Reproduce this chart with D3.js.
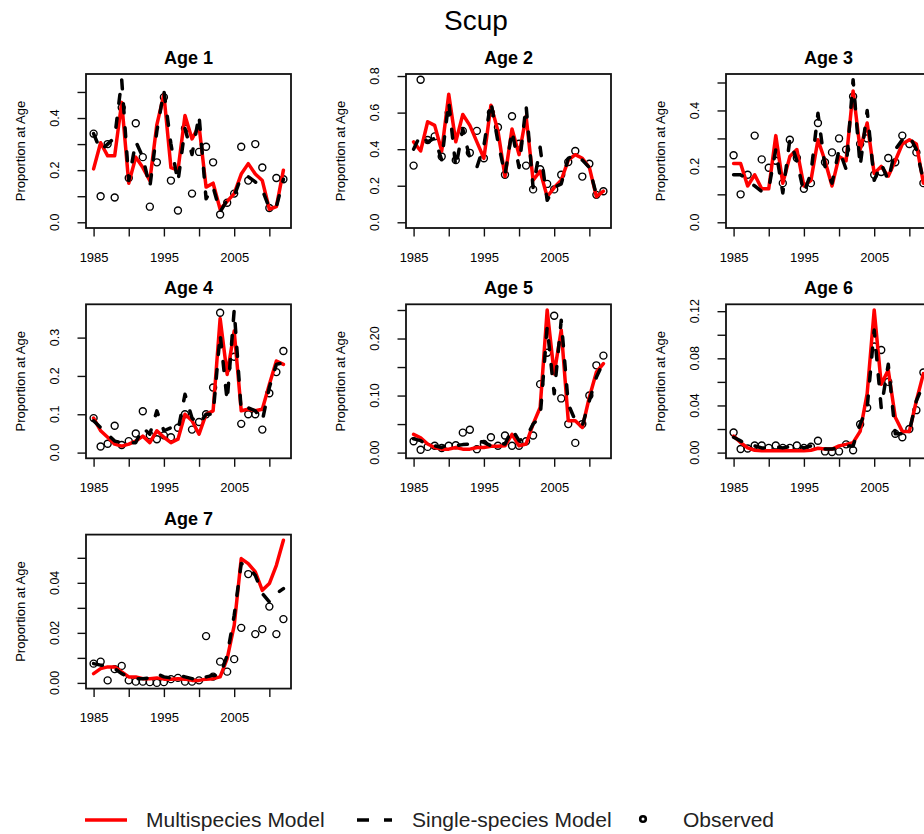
<!DOCTYPE html>
<html lang="en">
<head>
<meta charset="UTF-8">
<title>Scup</title>
<script src="https://d3js.org/d3.v7.min.js"></script>
<style>
  body { margin: 0; background: #fff; }
  svg { display: block; font-family: "Liberation Sans", Arial, sans-serif; }
</style>
</head>
<body>
<svg></svg>
<script>
// ---- data ----
const years = [1985,1986,1987,1988,1989,1990,1991,1992,1993,1994,1995,1996,1997,1998,
               1999,2000,2001,2002,2003,2004,2005,2006,2007,2008,2009,2010,2011,2012];

const multiAge1  = [0.205,0.305,0.255,0.255,0.46,0.15,0.25,0.21,0.16,0.375,0.49,0.21,0.2,0.41,0.32,0.37,0.135,0.15,0.05,0.08,0.11,0.185,0.225,0.185,0.16,0.05,0.06,0.2];
const singleAge1 = [0.34,0.275,0.3,0.325,0.547,0.16,0.31,0.25,0.135,0.35,0.505,0.3,0.155,0.36,0.26,0.41,0.09,0.135,0.04,0.085,0.1,0.175,0.175,0.155,0.125,0.055,0.06,0.165];
const obsAge1    = [0.34,0.1,0.3,0.095,0.44,0.17,0.38,0.25,0.06,0.23,0.48,0.16,0.045,0.36,0.11,0.27,0.29,0.23,0.03,0.075,0.11,0.29,0.16,0.3,0.21,0.055,0.17,0.165];

const multiAge2  = [0.44,0.39,0.55,0.53,0.39,0.70,0.44,0.59,0.53,0.44,0.35,0.64,0.50,0.25,0.51,0.37,0.58,0.23,0.28,0.14,0.19,0.23,0.34,0.37,0.35,0.30,0.14,0.17];
const singleAge2 = [0.40,0.48,0.44,0.46,0.34,0.66,0.30,0.51,0.35,0.30,0.42,0.66,0.44,0.26,0.50,0.30,0.64,0.19,0.41,0.12,0.19,0.21,0.35,0.37,0.34,0.30,0.15,0.18];
const obsAge2    = [0.31,0.78,0.45,0.47,0.36,0.60,0.34,0.50,0.38,0.50,0.35,0.60,0.52,0.26,0.58,0.43,0.31,0.18,0.29,0.21,0.18,0.26,0.33,0.39,0.25,0.32,0.15,0.17];

const multiAge3  = [0.21,0.21,0.13,0.17,0.12,0.12,0.31,0.14,0.235,0.26,0.13,0.15,0.295,0.22,0.13,0.235,0.22,0.47,0.26,0.355,0.175,0.2,0.165,0.22,0.28,0.295,0.28,0.14];
const singleAge3 = [0.17,0.17,0.15,0.13,0.11,0.12,0.26,0.105,0.295,0.22,0.105,0.175,0.39,0.2,0.14,0.26,0.19,0.51,0.2,0.4,0.15,0.21,0.15,0.26,0.295,0.31,0.26,0.15];
const obsAge3    = [0.24,0.10,0.17,0.31,0.225,0.195,0.22,0.14,0.295,0.23,0.12,0.14,0.355,0.215,0.25,0.30,0.26,0.45,0.28,0.30,0.17,0.18,0.23,0.215,0.31,0.28,0.25,0.14];

const multiAge4  = [0.09,0.057,0.04,0.022,0.017,0.022,0.03,0.043,0.026,0.057,0.04,0.026,0.035,0.1,0.083,0.048,0.1,0.109,0.35,0.204,0.317,0.109,0.113,0.109,0.113,0.178,0.239,0.23];
const singleAge4 = [0.083,0.065,0.048,0.03,0.026,0.026,0.026,0.065,0.048,0.109,0.057,0.065,0.057,0.152,0.09,0.074,0.1,0.1,0.309,0.135,0.372,0.109,0.117,0.109,0.083,0.17,0.23,0.235];
const obsAge4    = [0.09,0.016,0.023,0.07,0.02,0.03,0.05,0.108,0.045,0.035,0.045,0.04,0.065,0.1,0.06,0.08,0.1,0.17,0.365,0.22,0.25,0.075,0.1,0.1,0.06,0.155,0.21,0.265];

const multiAge5  = [0.032,0.026,0.015,0.009,0.006,0.006,0.009,0.006,0.006,0.009,0.009,0.011,0.011,0.012,0.032,0.012,0.015,0.05,0.079,0.25,0.138,0.215,0.056,0.056,0.044,0.097,0.141,0.156];
const singleAge5 = [0.024,0.021,0.012,0.012,0.009,0.015,0.012,0.014,0.015,0.021,0.018,0.012,0.018,0.015,0.041,0.021,0.026,0.05,0.062,0.22,0.103,0.232,0.085,0.056,0.047,0.091,0.132,0.159];
const obsAge5    = [0.02,0.005,0.01,0.012,0.008,0.012,0.013,0.035,0.04,0.006,0.015,0.027,0.012,0.03,0.012,0.012,0.02,0.03,0.12,0.175,0.24,0.095,0.05,0.017,0.05,0.1,0.153,0.17];

const multiAge6  = [0.014,0.0085,0.004,0.002,0.0015,0.0015,0.0015,0.0015,0.0015,0.0015,0.0015,0.002,0.0037,0.003,0.003,0.0057,0.007,0.0085,0.018,0.05,0.121,0.058,0.07,0.03,0.018,0.018,0.044,0.067];
const singleAge6 = [0.013,0.01,0.0057,0.0057,0.004,0.004,0.005,0.004,0.005,0.0065,0.004,0.0057,0.004,0.003,0.003,0.004,0.0057,0.0057,0.024,0.038,0.104,0.038,0.075,0.016,0.016,0.018,0.044,0.058];
const obsAge6    = [0.017,0.003,0.0035,0.006,0.006,0.004,0.006,0.004,0.004,0.006,0.004,0.005,0.01,0.001,0.0005,0.001,0.007,0.002,0.024,0.038,0.09,0.087,0.06,0.016,0.013,0.02,0.036,0.068];

const multiAge7  = [0.0037,0.0057,0.0064,0.0064,0.0044,0.0024,0.0024,0.0017,0.0017,0.002,0.0015,0.0015,0.0017,0.0015,0.001,0.001,0.0015,0.0017,0.0024,0.0097,0.023,0.0497,0.0477,0.0444,0.037,0.0397,0.047,0.057];
const singleAge7 = [0.0077,0.0071,0.0071,0.0057,0.0037,0.0024,0.0017,0.0017,0.002,0.0037,0.0024,0.002,0.003,0.0024,0.0017,0.001,0.0024,0.003,0.003,0.011,0.027,0.0477,0.0464,0.043,0.0357,0.0324,0.0357,0.0377];
const obsAge7    = [0.0077,0.0085,0.001,0.0055,0.0068,0.001,0.0005,0.0005,0.0003,0,0.0003,0.0015,0.002,0.0005,0.0005,0.001,0.0187,0.0025,0.0085,0.0045,0.0095,0.022,0.0435,0.0195,0.0215,0.0305,0.0195,0.0255];

// ---- tick labels ----
const xTicks = [1985,1990,1995,2000,2005,2010];
const xTickLabels = ["1985","","1995","","2005",""];

const yTicksAge1 = [0,0.1,0.2,0.3,0.4,0.5];       const yLabelsAge1 = ["0.0","","0.2","","0.4",""];
const yTicksAge2 = [0,0.2,0.4,0.6,0.8];           const yLabelsAge2 = ["0.0","0.2","0.4","0.6","0.8"];
const yTicksAge3 = [0,0.1,0.2,0.3,0.4,0.5];       const yLabelsAge3 = ["0.0","","0.2","","0.4",""];
const yTicksAge4 = [0,0.1,0.2,0.3];               const yLabelsAge4 = ["0.0","0.1","0.2","0.3"];
const yTicksAge5 = [0,0.05,0.1,0.15,0.2,0.25];    const yLabelsAge5 = ["0.00","","0.10","","0.20",""];
const yTicksAge6 = [0,0.02,0.04,0.06,0.08,0.1,0.12]; const yLabelsAge6 = ["0.00","","0.04","","0.08","","0.12"];
const yTicksAge7 = [0,0.01,0.02,0.03,0.04,0.05];  const yLabelsAge7 = ["0.00","","0.02","","0.04",""];

const panels = [
    {title: "Age 1", multi: multiAge1, single: singleAge1, obs: obsAge1, yTicks: yTicksAge1, yLabels: yLabelsAge1},
    {title: "Age 2", multi: multiAge2, single: singleAge2, obs: obsAge2, yTicks: yTicksAge2, yLabels: yLabelsAge2},
    {title: "Age 3", multi: multiAge3, single: singleAge3, obs: obsAge3, yTicks: yTicksAge3, yLabels: yLabelsAge3},
    {title: "Age 4", multi: multiAge4, single: singleAge4, obs: obsAge4, yTicks: yTicksAge4, yLabels: yLabelsAge4},
    {title: "Age 5", multi: multiAge5, single: singleAge5, obs: obsAge5, yTicks: yTicksAge5, yLabels: yLabelsAge5},
    {title: "Age 6", multi: multiAge6, single: singleAge6, obs: obsAge6, yTicks: yTicksAge6, yLabels: yLabelsAge6},
    {title: "Age 7", multi: multiAge7, single: singleAge7, obs: obsAge7, yTicks: yTicksAge7, yLabels: yLabelsAge7}
];

// ---- layout ----
const width = 924, height = 834;
const colStep = 320, rowStep = 230.3;
const frame = {left: 86, top: 74, w: 205, h: 154};
const tickLen = 8.5;
const red = '#ff0000';

const svg = d3.select('svg').attr('width', width).attr('height', height);

svg.append('text')
    .text('Scup')
    .attr('x', 476)
    .attr('y', 30)
    .attr('text-anchor', 'middle')
    .style('font-size', '28px');

panels.forEach((p, i) => {
    const col = i % 3, row = Math.floor(i / 3);
    const g = svg.append('g')
        .attr('transform', `translate(${frame.left + col * colStep},${frame.top + row * rowStep})`);

    // R style ranges: 4% padding either side
    const xr = d3.extent(years);
    const yr = [0, d3.max(p.multi.concat(p.single, p.obs))];
    const xPad = (xr[1] - xr[0]) * 0.04, yPad = (yr[1] - yr[0]) * 0.04;
    const x = d3.scaleLinear().domain([xr[0] - xPad, xr[1] + xPad]).range([0, frame.w]);
    const y = d3.scaleLinear().domain([yr[0] - yPad, yr[1] + yPad]).range([frame.h, 0]);

    // x axis
    const xAxis = g.append('g')
        .attr('transform', `translate(0,${frame.h})`)
        .call(d3.axisBottom(x).tickValues(xTicks).tickSize(tickLen).tickPadding(16)
            .tickFormat((d, k) => xTickLabels[k]));
    xAxis.select('.domain').remove();
    xAxis.selectAll('line').attr('stroke', '#111').attr('stroke-width', 1.4);
    xAxis.selectAll('text').attr('fill', '#000').style('font-size', '13px').attr('font-family', null);

    // y axis, labels rotated like R
    const yAxis = g.append('g')
        .call(d3.axisLeft(y).tickValues(p.yTicks).tickSize(tickLen).tickFormat(''));
    yAxis.select('.domain').remove();
    yAxis.selectAll('line').attr('stroke', '#111').attr('stroke-width', 1.4);

    g.append('g').selectAll('text')
        .data(p.yTicks)
        .enter()
        .append('text')
        .attr('transform', (d, k) => `translate(-31,${y(d)}) rotate(-90)`)
        .attr('text-anchor', 'middle')
        .attr('dy', '0.35em')
        .attr('fill', '#000')
        .style('font-size', '12.5px')
        .text((d, k) => p.yLabels[k]);

    g.append('text')
        .attr('transform', `translate(-66,${frame.h / 2}) rotate(-90)`)
        .attr('text-anchor', 'middle')
        .attr('dy', '0.35em')
        .attr('fill', '#000')
        .style('font-size', '13px')
        .text('Proportion at Age');

    // panel title
    g.append('text')
        .attr('x', frame.w / 2)
        .attr('y', -10)
        .attr('text-anchor', 'middle')
        .style('font-size', '18px')
        .style('font-weight', 'bold')
        .text(p.title);

    // observed points
    g.append('g').selectAll('circle')
        .data(p.obs)
        .enter()
        .append('circle')
        .attr('cx', (d, k) => x(years[k]))
        .attr('cy', d => y(d))
        .attr('r', 3.5)
        .attr('fill', 'none')
        .attr('stroke', '#000')
        .attr('stroke-width', 1.4);

    const line = d3.line().x((d, k) => x(years[k])).y(d => y(d));

    g.append('path')
        .attr('d', line(p.multi))
        .attr('fill', 'none')
        .attr('stroke', red)
        .attr('stroke-width', 3.5)
        .attr('stroke-linejoin', 'round')
        .attr('stroke-linecap', 'round');

    g.append('path')
        .attr('d', line(p.single))
        .attr('fill', 'none')
        .attr('stroke', '#000')
        .attr('stroke-width', 3.5)
        .attr('stroke-dasharray', '9,15')
        .attr('stroke-linejoin', 'round')
        .attr('stroke-linecap', 'round');

    // box
    g.append('rect')
        .attr('width', frame.w)
        .attr('height', frame.h)
        .attr('fill', 'none')
        .attr('stroke', '#111')
        .attr('stroke-width', 1.8);
});

// ---- legend ----
const legendY = 820;
const legend = svg.append('g').style('font-size', '21px').attr('fill', '#222');

legend.append('line')
    .attr('x1', 85).attr('x2', 127).attr('y1', legendY).attr('y2', legendY)
    .attr('stroke', red).attr('stroke-width', 3.5);
legend.append('text').attr('x', 146).attr('y', legendY).attr('dy', '0.35em').text('Multispecies Model');

legend.append('line')
    .attr('x1', 357).attr('x2', 392).attr('y1', legendY).attr('y2', legendY)
    .attr('stroke', '#000').attr('stroke-width', 3.5)
    .attr('stroke-dasharray', '12,15');
legend.append('text').attr('x', 412).attr('y', legendY).attr('dy', '0.35em').text('Single-species Model');

legend.append('circle')
    .attr('cx', 643).attr('cy', legendY - 1).attr('r', 2.8)
    .attr('fill', 'none').attr('stroke', '#000').attr('stroke-width', 2.6);
legend.append('text').attr('x', 683).attr('y', legendY).attr('dy', '0.35em').text('Observed');
</script>
</body>
</html>
